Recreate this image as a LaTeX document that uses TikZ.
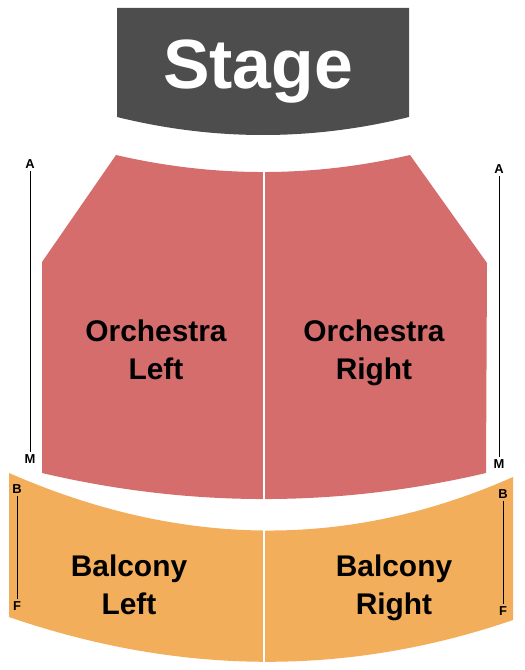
\documentclass[tikz,border=0pt]{standalone}
\usepackage{fontspec}
\setmainfont{Liberation Sans}
\definecolor{stagegray}{HTML}{4D4D4D}
\definecolor{orchred}{HTML}{D66D6D}
\definecolor{balcorange}{HTML}{F2AE5B}
\tikzset{
	section/.style={font=\fontsize{30}{38}\selectfont\bfseries, align=center, inner sep=0pt, text depth=1bp},
	rowlabel/.style={font=\fontsize{13}{13}\selectfont\bfseries, inner sep=1bp, outer sep=1.5bp},
	rowline/.style={black, line width=1bp},
	divider/.style={white, line width=1.5bp}
}

\begin{document}
\begin{tikzpicture}[x=1bp,y=-1bp]
		\useasboundingbox (0,0) rectangle (525,670);
		
		\fill[stagegray] (117,8) -- (409,8) -- (409,117) .. controls (311.7,141) and (214.3,141) .. (117,117) -- cycle;
		\fill[orchred] (116,155) .. controls (214,177.7) and (312,177.7) .. (410,155) -- (487,263) -- (486,473) .. controls (338,507.7) and (190,507.7) .. (42,473) -- (42,262) -- cycle;
		\fill[balcorange] (9,473) .. controls (179.7,547.7) and (347.7,550.3) .. (513,477) -- (513,620) .. controls (347.7,676.7) and (179.7,675.7) .. (9,617) -- cycle;
		\draw[divider] (264,160) -- (264,505);
		\draw[divider] (264,520) -- (264,670);
		
		\node[font=\fontsize{70}{70}\selectfont\bfseries, text=white] (stage) at (258,72) {Stage};
		\node[section] (orchL) at (156,350) {Orchestra\\Left};
		\node[section] (orchR) at (374,350) {Orchestra\\Right};
		\node[section] (balcL) at (129,585) {Balcony\\Left};
		\node[section] (balcR) at (394,585) {Balcony\\Right};
		
		\node[rowlabel] (rowAl) at (30,164) {A};
		\node[rowlabel] (rowMl) at (30,459) {M};
		\node[rowlabel] (rowAr) at (499,169) {A};
		\node[rowlabel] (rowMr) at (499,464) {M};
		\node[rowlabel] (rowBl) at (17,489) {B};
		\node[rowlabel] (rowFl) at (17,606) {F};
		\node[rowlabel] (rowBr) at (503,494) {B};
		\node[rowlabel] (rowFr) at (503,611) {F};
		
		\draw[rowline] (rowAl) -- (rowMl);
		\draw[rowline] (rowAr) -- (rowMr);
		\draw[rowline] (rowBl) -- (rowFl);
		\draw[rowline] (rowBr) -- (rowFr);
	\end{tikzpicture}
\end{document}
